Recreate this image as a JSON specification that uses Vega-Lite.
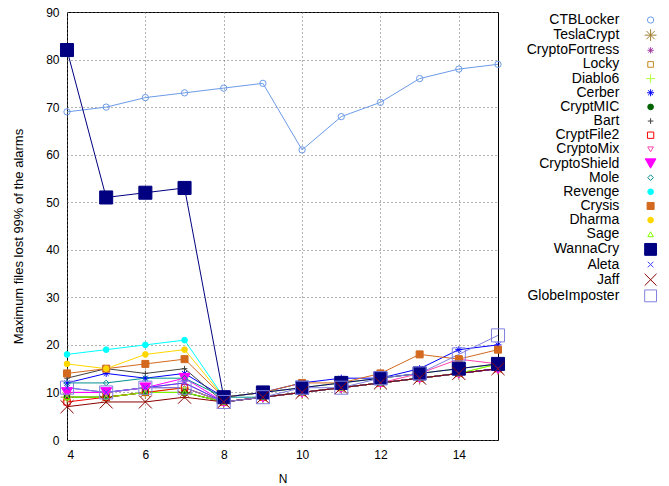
{
"$schema": "https://vega.github.io/schema/vega-lite/v6.json",
"width": 431, "height": 428,
"autosize": {"type": "none"},
"padding": {"left": 67, "top": 12, "right": 171, "bottom": 46},
"background": "white",
"datasets": {"d": [
{"s":"CTBLocker","N":4,"v":69},{"s":"CTBLocker","N":5,"v":70},{"s":"CTBLocker","N":6,"v":72},{"s":"CTBLocker","N":7,"v":73},{"s":"CTBLocker","N":8,"v":74},{"s":"CTBLocker","N":9,"v":75},{"s":"CTBLocker","N":10,"v":61},{"s":"CTBLocker","N":11,"v":68},{"s":"CTBLocker","N":12,"v":71},{"s":"CTBLocker","N":13,"v":76},{"s":"CTBLocker","N":14,"v":78},{"s":"CTBLocker","N":15,"v":79},
{"s":"TeslaCrypt","N":4,"v":9},{"s":"TeslaCrypt","N":5,"v":9},{"s":"TeslaCrypt","N":6,"v":10},{"s":"TeslaCrypt","N":7,"v":10},{"s":"TeslaCrypt","N":8,"v":8},{"s":"TeslaCrypt","N":9,"v":9},{"s":"TeslaCrypt","N":10,"v":10},{"s":"TeslaCrypt","N":11,"v":11},{"s":"TeslaCrypt","N":12,"v":12},{"s":"TeslaCrypt","N":13,"v":13},{"s":"TeslaCrypt","N":14,"v":14},{"s":"TeslaCrypt","N":15,"v":15},
{"s":"CryptoFortress","N":4,"v":10},{"s":"CryptoFortress","N":5,"v":10},{"s":"CryptoFortress","N":6,"v":11},{"s":"CryptoFortress","N":7,"v":11},{"s":"CryptoFortress","N":8,"v":8},{"s":"CryptoFortress","N":9,"v":9},{"s":"CryptoFortress","N":10,"v":10},{"s":"CryptoFortress","N":11,"v":11},{"s":"CryptoFortress","N":12,"v":12},{"s":"CryptoFortress","N":13,"v":13},{"s":"CryptoFortress","N":14,"v":14},{"s":"CryptoFortress","N":15,"v":15},
{"s":"Locky","N":4,"v":9},{"s":"Locky","N":5,"v":9},{"s":"Locky","N":6,"v":10},{"s":"Locky","N":7,"v":10},{"s":"Locky","N":8,"v":8},{"s":"Locky","N":9,"v":9},{"s":"Locky","N":10,"v":10},{"s":"Locky","N":11,"v":11},{"s":"Locky","N":12,"v":12},{"s":"Locky","N":13,"v":13},{"s":"Locky","N":14,"v":14},{"s":"Locky","N":15,"v":15},
{"s":"Diablo6","N":4,"v":9},{"s":"Diablo6","N":5,"v":9},{"s":"Diablo6","N":6,"v":10},{"s":"Diablo6","N":7,"v":11},{"s":"Diablo6","N":8,"v":8},{"s":"Diablo6","N":9,"v":9},{"s":"Diablo6","N":10,"v":10},{"s":"Diablo6","N":11,"v":11},{"s":"Diablo6","N":12,"v":12},{"s":"Diablo6","N":13,"v":13},{"s":"Diablo6","N":14,"v":14},{"s":"Diablo6","N":15,"v":16},
{"s":"Cerber","N":4,"v":12},{"s":"Cerber","N":5,"v":14},{"s":"Cerber","N":6,"v":13},{"s":"Cerber","N":7,"v":14},{"s":"Cerber","N":8,"v":9},{"s":"Cerber","N":9,"v":10},{"s":"Cerber","N":10,"v":12},{"s":"Cerber","N":11,"v":13},{"s":"Cerber","N":12,"v":13},{"s":"Cerber","N":13,"v":15},{"s":"Cerber","N":14,"v":19},{"s":"Cerber","N":15,"v":20},
{"s":"CryptMIC","N":4,"v":9},{"s":"CryptMIC","N":5,"v":9},{"s":"CryptMIC","N":6,"v":10},{"s":"CryptMIC","N":7,"v":10},{"s":"CryptMIC","N":8,"v":8},{"s":"CryptMIC","N":9,"v":9},{"s":"CryptMIC","N":10,"v":10},{"s":"CryptMIC","N":11,"v":11},{"s":"CryptMIC","N":12,"v":12},{"s":"CryptMIC","N":13,"v":13},{"s":"CryptMIC","N":14,"v":14},{"s":"CryptMIC","N":15,"v":15},
{"s":"Bart","N":4,"v":13},{"s":"Bart","N":5,"v":15},{"s":"Bart","N":6,"v":14},{"s":"Bart","N":7,"v":15},{"s":"Bart","N":8,"v":8},{"s":"Bart","N":9,"v":9},{"s":"Bart","N":10,"v":10},{"s":"Bart","N":11,"v":11},{"s":"Bart","N":12,"v":12},{"s":"Bart","N":13,"v":13},{"s":"Bart","N":14,"v":14},{"s":"Bart","N":15,"v":15},
{"s":"CryptFile2","N":4,"v":8},{"s":"CryptFile2","N":5,"v":9},{"s":"CryptFile2","N":6,"v":10},{"s":"CryptFile2","N":7,"v":11},{"s":"CryptFile2","N":8,"v":8},{"s":"CryptFile2","N":9,"v":9},{"s":"CryptFile2","N":10,"v":10},{"s":"CryptFile2","N":11,"v":11},{"s":"CryptFile2","N":12,"v":12},{"s":"CryptFile2","N":13,"v":13},{"s":"CryptFile2","N":14,"v":14},{"s":"CryptFile2","N":15,"v":15},
{"s":"CryptoMix","N":4,"v":10},{"s":"CryptoMix","N":5,"v":10},{"s":"CryptoMix","N":6,"v":11},{"s":"CryptoMix","N":7,"v":12},{"s":"CryptoMix","N":8,"v":8},{"s":"CryptoMix","N":9,"v":9},{"s":"CryptoMix","N":10,"v":10},{"s":"CryptoMix","N":11,"v":11},{"s":"CryptoMix","N":12,"v":12},{"s":"CryptoMix","N":13,"v":14},{"s":"CryptoMix","N":14,"v":17},{"s":"CryptoMix","N":15,"v":16},
{"s":"CryptoShield","N":4,"v":10},{"s":"CryptoShield","N":5,"v":10},{"s":"CryptoShield","N":6,"v":11},{"s":"CryptoShield","N":7,"v":13},{"s":"CryptoShield","N":8,"v":8},{"s":"CryptoShield","N":9,"v":9},{"s":"CryptoShield","N":10,"v":10},{"s":"CryptoShield","N":11,"v":11},{"s":"CryptoShield","N":12,"v":12},{"s":"CryptoShield","N":13,"v":13},{"s":"CryptoShield","N":14,"v":14},{"s":"CryptoShield","N":15,"v":15},
{"s":"Mole","N":4,"v":12},{"s":"Mole","N":5,"v":12},{"s":"Mole","N":6,"v":13},{"s":"Mole","N":7,"v":13},{"s":"Mole","N":8,"v":9},{"s":"Mole","N":9,"v":9},{"s":"Mole","N":10,"v":10},{"s":"Mole","N":11,"v":11},{"s":"Mole","N":12,"v":12},{"s":"Mole","N":13,"v":13},{"s":"Mole","N":14,"v":14},{"s":"Mole","N":15,"v":15},
{"s":"Revenge","N":4,"v":18},{"s":"Revenge","N":5,"v":19},{"s":"Revenge","N":6,"v":20},{"s":"Revenge","N":7,"v":21},{"s":"Revenge","N":8,"v":9},{"s":"Revenge","N":9,"v":10},{"s":"Revenge","N":10,"v":11},{"s":"Revenge","N":11,"v":12},{"s":"Revenge","N":12,"v":13},{"s":"Revenge","N":13,"v":14},{"s":"Revenge","N":14,"v":15},{"s":"Revenge","N":15,"v":16},
{"s":"Crysis","N":4,"v":14},{"s":"Crysis","N":5,"v":15},{"s":"Crysis","N":6,"v":16},{"s":"Crysis","N":7,"v":17},{"s":"Crysis","N":8,"v":9},{"s":"Crysis","N":9,"v":10},{"s":"Crysis","N":10,"v":12},{"s":"Crysis","N":11,"v":12},{"s":"Crysis","N":12,"v":14},{"s":"Crysis","N":13,"v":18},{"s":"Crysis","N":14,"v":17},{"s":"Crysis","N":15,"v":19},
{"s":"Dharma","N":4,"v":16},{"s":"Dharma","N":5,"v":15},{"s":"Dharma","N":6,"v":18},{"s":"Dharma","N":7,"v":19},{"s":"Dharma","N":8,"v":9},{"s":"Dharma","N":9,"v":10},{"s":"Dharma","N":10,"v":11},{"s":"Dharma","N":11,"v":12},{"s":"Dharma","N":12,"v":13},{"s":"Dharma","N":13,"v":14},{"s":"Dharma","N":14,"v":15},{"s":"Dharma","N":15,"v":16},
{"s":"Sage","N":4,"v":9},{"s":"Sage","N":5,"v":9},{"s":"Sage","N":6,"v":10},{"s":"Sage","N":7,"v":10},{"s":"Sage","N":8,"v":8},{"s":"Sage","N":9,"v":9},{"s":"Sage","N":10,"v":10},{"s":"Sage","N":11,"v":11},{"s":"Sage","N":12,"v":12},{"s":"Sage","N":13,"v":13},{"s":"Sage","N":14,"v":14},{"s":"Sage","N":15,"v":16},
{"s":"WannaCry","N":4,"v":82},{"s":"WannaCry","N":5,"v":51},{"s":"WannaCry","N":6,"v":52},{"s":"WannaCry","N":7,"v":53},{"s":"WannaCry","N":8,"v":9},{"s":"WannaCry","N":9,"v":10},{"s":"WannaCry","N":10,"v":11},{"s":"WannaCry","N":11,"v":12},{"s":"WannaCry","N":12,"v":13},{"s":"WannaCry","N":13,"v":14},{"s":"WannaCry","N":14,"v":15},{"s":"WannaCry","N":15,"v":16},
{"s":"Aleta","N":4,"v":11},{"s":"Aleta","N":5,"v":10},{"s":"Aleta","N":6,"v":11},{"s":"Aleta","N":7,"v":12},{"s":"Aleta","N":8,"v":8},{"s":"Aleta","N":9,"v":9},{"s":"Aleta","N":10,"v":10},{"s":"Aleta","N":11,"v":11},{"s":"Aleta","N":12,"v":12},{"s":"Aleta","N":13,"v":13},{"s":"Aleta","N":14,"v":14},{"s":"Aleta","N":15,"v":15},
{"s":"Jaff","N":4,"v":7},{"s":"Jaff","N":5,"v":8},{"s":"Jaff","N":6,"v":8},{"s":"Jaff","N":7,"v":9},{"s":"Jaff","N":8,"v":8},{"s":"Jaff","N":9,"v":9},{"s":"Jaff","N":10,"v":10},{"s":"Jaff","N":11,"v":11},{"s":"Jaff","N":12,"v":12},{"s":"Jaff","N":13,"v":13},{"s":"Jaff","N":14,"v":14},{"s":"Jaff","N":15,"v":15},
{"s":"GlobeImposter","N":4,"v":11},{"s":"GlobeImposter","N":5,"v":10},{"s":"GlobeImposter","N":6,"v":11},{"s":"GlobeImposter","N":7,"v":11},{"s":"GlobeImposter","N":8,"v":8},{"s":"GlobeImposter","N":9,"v":9},{"s":"GlobeImposter","N":10,"v":11},{"s":"GlobeImposter","N":11,"v":11},{"s":"GlobeImposter","N":12,"v":13},{"s":"GlobeImposter","N":13,"v":14},{"s":"GlobeImposter","N":14,"v":18},{"s":"GlobeImposter","N":15,"v":22}
]},
"data": {"name": "d"},
"encoding": {
  "x": {"field": "N", "type": "quantitative", "title": "N",
        "scale": {"domain": [4, 15], "nice": false, "zero": false},
        "axis": {"values": [4, 6, 8, 10, 12, 14], "labelPadding": 9, "titleY": 38, "titleBaseline": "middle"}},
  "y": {"field": "v", "type": "quantitative", "title": "Maximum files lost 99% of the alarms",
        "scale": {"domain": [0, 90], "nice": false},
        "axis": {"values": [0, 10, 20, 30, 40, 50, 60, 70, 80, 90], "labelPadding": 8, "titleX": -49, "titleY": 224, "titleBaseline": "middle", "titleFontSize": 13}},
  "stroke": {"field": "s", "type": "nominal", "title": null,
    "scale": {
      "domain": ["CTBLocker","TeslaCrypt","CryptoFortress","Locky","Diablo6","Cerber","CryptMIC","Bart","CryptFile2","CryptoMix","CryptoShield","Mole","Revenge","Crysis","Dharma","Sage","WannaCry","Aleta","Jaff","GlobeImposter"],
      "range": ["#6c9be8","#a08030","#a03ca0","#c08a20","#b0ff40","#0000ff","#006400","#404040","#ff0000","#ff44aa","#ff00ff","#009090","#00ffff","#d2691e","#ffd700","#80ff00","#000080","#4040ff","#8b0000","#8080e0"]},
    "legend": {"orient": "none", "legendX": 576.6, "legendY": 1,
      "encode": {"symbols": {"update": {"size": {"signal": "indexof(['WannaCry','GlobeImposter','Jaff','TeslaCrypt'], datum.value) >= 0 ? 140 : datum.value === 'CryptoShield' ? 115 : datum.value === 'Diablo6' ? 81 : indexof(['Cerber','Crysis'], datum.value) >= 0 ? 49 : indexof(['CTBLocker','CryptFile2','CryptoFortress'], datum.value) >= 0 ? 40 : 32"}}}}}
  }
},
"layer": [
  {"mark": {"type": "line", "strokeWidth": 1}, "encoding": {}},
  {"mark": {"type": "point", "strokeWidth": 1, "opacity": 1},
   "encoding": {
     "shape": {"field": "s", "type": "nominal", "title": null,
       "scale": {
         "domain": ["CTBLocker","TeslaCrypt","CryptoFortress","Locky","Diablo6","Cerber","CryptMIC","Bart","CryptFile2","CryptoMix","CryptoShield","Mole","Revenge","Crysis","Dharma","Sage","WannaCry","Aleta","Jaff","GlobeImposter"],
         "range": ["circle",
                   "M-1,0L1,0M0,-1L0,1M-0.7,-0.7L0.7,0.7M-0.7,0.7L0.7,-0.7",
                   "M-1,0L1,0M0,-1L0,1M-0.7,-0.7L0.7,0.7M-0.7,0.7L0.7,-0.7",
                   "square",
                   "M-1,0L1,0M0,-1L0,1",
                   "M-1,0L1,0M0,-1L0,1M-0.7,-0.7L0.7,0.7M-0.7,0.7L0.7,-0.7",
                   "circle",
                   "M-1,0L1,0M0,-1L0,1",
                   "square",
                   "triangle-down",
                   "triangle-down",
                   "diamond",
                   "circle",
                   "square",
                   "circle",
                   "triangle-up",
                   "square",
                   "M-1,-1L1,1M-1,1L1,-1",
                   "M-1,-1L1,1M-1,1L1,-1",
                   "square"]}},
     "fill": {"field": "s", "type": "nominal", "title": null,
       "scale": {
         "domain": ["CTBLocker","TeslaCrypt","CryptoFortress","Locky","Diablo6","Cerber","CryptMIC","Bart","CryptFile2","CryptoMix","CryptoShield","Mole","Revenge","Crysis","Dharma","Sage","WannaCry","Aleta","Jaff","GlobeImposter"],
         "range": ["transparent","transparent","transparent","transparent","transparent","transparent","#006400","transparent","transparent","transparent","#ff00ff","transparent","#00ffff","#d2691e","#ffd700","transparent","#000080","transparent","transparent","transparent"]}},
     "size": {"condition": [
         {"test": "indexof(['WannaCry','GlobeImposter','Jaff','TeslaCrypt'], datum.s) >= 0", "value": 170},
         {"test": "datum.s === 'CryptoShield'", "value": 121},
         {"test": "datum.s === 'Diablo6'", "value": 81},
         {"test": "indexof(['Cerber','Crysis'], datum.s) >= 0", "value": 49},
         {"test": "indexof(['CTBLocker','CryptFile2','CryptoFortress'], datum.s) >= 0", "value": 40}
       ], "value": 32}
   }}
],
"config": {
  "view": {"stroke": "#000000", "strokeWidth": 1},
  "axis": {"labelFont": "Liberation Sans", "titleFont": "Liberation Sans", "labelFontSize": 12, "titleFontSize": 12,
           "titleFontWeight": "normal", "labelColor": "#000000", "titleColor": "#000000",
           "domain": false, "ticks": false, "grid": true, "gridColor": "#666666", "gridDash": [1, 3], "gridWidth": 1, "gridOpacity": 1},
  "legend": {"labelAlign": "right", "labelOffset": -38.3, "labelFont": "Liberation Sans", "labelFontSize": 14, "labelColor": "#000000",
             "rowPadding": 0.15, "padding": 0, "symbolSize": 60, "symbolStrokeWidth": 1, "symbolOpacity": 1, "labelLimit": 0}
}
}
